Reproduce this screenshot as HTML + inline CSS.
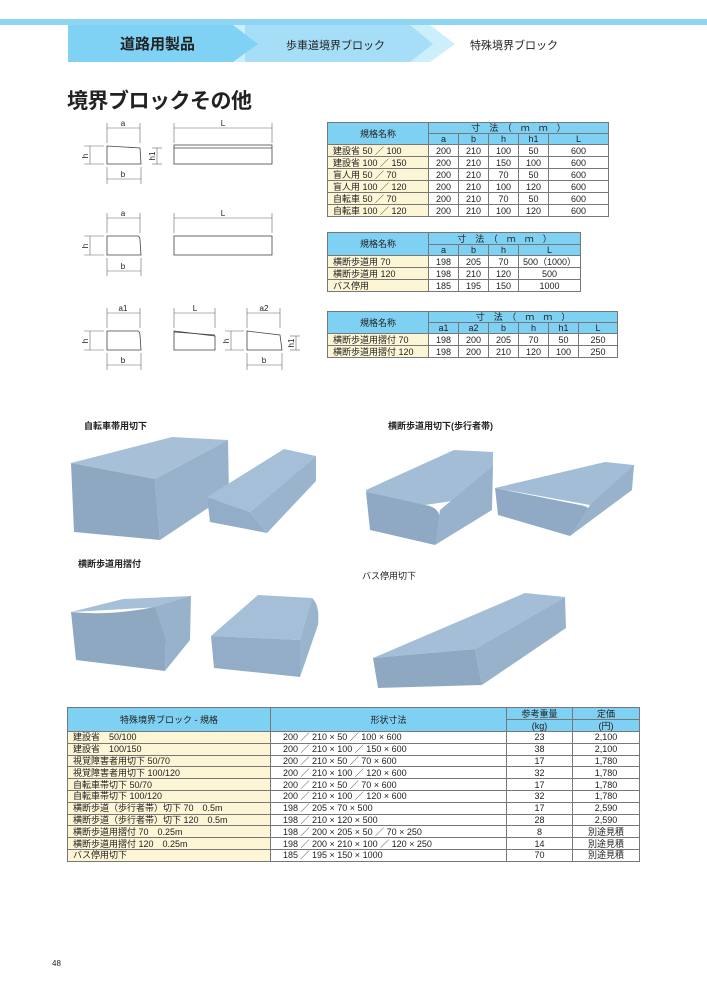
<!DOCTYPE html>
<html><head><meta charset="utf-8">
<style>
*{margin:0;padding:0;box-sizing:border-box}
body{width:707px;height:1000px;background:#fff;position:relative;overflow:hidden;font-family:"Liberation Sans","Noto Sans CJK JP",sans-serif;color:#222}
.abs{position:absolute}
table{border-collapse:collapse;position:absolute;table-layout:fixed;font-size:9px}
td{border:1px solid #777;text-align:center;padding:0;line-height:10px;white-space:nowrap;overflow:hidden}
td.h{background:#7fd1f4}
td.n{background:#fdf6d6;text-align:left;padding-left:5px}
</style></head><body>
<div class="abs" style="left:0;top:19px;width:707px;height:6px;background:#8dd5f3"></div>
<svg class="abs" style="left:0;top:0" width="707" height="70">
<polygon points="186,25 430,25 455,44 430,62 186,62" fill="#cdeefb"/>
<polygon points="245,25 410,25 433,44 410,62 245,62" fill="#a6def7"/>
<polygon points="68,25 233,25 258,44 233,62 68,62" fill="#80d2f4"/>
</svg>
<div class="abs" style="left:120px;top:33px;font-size:15px;font-weight:bold;color:#222">道路用製品</div>
<div class="abs" style="left:286px;top:37px;font-size:11px">歩車道境界ブロック</div>
<div class="abs" style="left:470px;top:37px;font-size:11px">特殊境界ブロック</div>
<div class="abs" style="left:67px;top:85px;font-size:21px;font-weight:bold;letter-spacing:-0.5px">境界ブロックその他</div>

<svg class="abs" style="left:0;top:0" width="320" height="400" fill="none" stroke="#444" stroke-width="0.8" font-family="Liberation Sans" font-size="8">
<g stroke="#666" stroke-width="0.6">
<line x1="107" y1="128" x2="140" y2="128"/><line x1="107" y1="123" x2="107" y2="143"/><line x1="140" y1="123" x2="140" y2="143"/>
<line x1="107" y1="179" x2="141" y2="179"/><line x1="107" y1="167" x2="107" y2="184"/><line x1="141" y1="167" x2="141" y2="184"/>
<line x1="90" y1="146" x2="90" y2="164"/><line x1="84" y1="146" x2="104" y2="146"/><line x1="84" y1="164" x2="104" y2="164"/>
<line x1="157" y1="148" x2="157" y2="164"/><line x1="152" y1="148" x2="162" y2="148"/><line x1="152" y1="164" x2="162" y2="164"/>
<line x1="174" y1="128" x2="272" y2="128"/><line x1="174" y1="123" x2="174" y2="143"/><line x1="272" y1="123" x2="272" y2="143"/>
<line x1="107" y1="218" x2="140" y2="218"/><line x1="107" y1="213" x2="107" y2="233"/><line x1="140" y1="213" x2="140" y2="233"/>
<line x1="107" y1="271" x2="141" y2="271"/><line x1="107" y1="258" x2="107" y2="276"/><line x1="141" y1="258" x2="141" y2="276"/>
<line x1="90" y1="236" x2="90" y2="255"/><line x1="84" y1="236" x2="104" y2="236"/><line x1="84" y1="255" x2="104" y2="255"/>
<line x1="174" y1="218" x2="272" y2="218"/><line x1="174" y1="213" x2="174" y2="233"/><line x1="272" y1="213" x2="272" y2="233"/>
<line x1="107" y1="313" x2="140" y2="313"/><line x1="107" y1="308" x2="107" y2="328"/><line x1="140" y1="308" x2="140" y2="328"/>
<line x1="107" y1="365" x2="141" y2="365"/><line x1="107" y1="353" x2="107" y2="370"/><line x1="141" y1="353" x2="141" y2="370"/>
<line x1="90" y1="331" x2="90" y2="350"/><line x1="84" y1="331" x2="104" y2="331"/><line x1="84" y1="350" x2="104" y2="350"/>
<line x1="174" y1="313" x2="215" y2="313"/><line x1="174" y1="308" x2="174" y2="328"/><line x1="215" y1="308" x2="215" y2="328"/>
<line x1="247" y1="313" x2="280" y2="313"/><line x1="247" y1="308" x2="247" y2="328"/><line x1="280" y1="308" x2="280" y2="328"/>
<line x1="247" y1="365" x2="282" y2="365"/><line x1="247" y1="353" x2="247" y2="370"/><line x1="282" y1="353" x2="282" y2="370"/>
<line x1="231" y1="331" x2="231" y2="350"/><line x1="225" y1="331" x2="244" y2="331"/><line x1="225" y1="350" x2="244" y2="350"/>
<line x1="296" y1="336" x2="296" y2="350"/><line x1="290" y1="336" x2="300" y2="336"/><line x1="290" y1="350" x2="300" y2="350"/>
</g>
<polygon points="107,146 140,148 141,164 107,164"/>
<rect x="174" y="145" width="98" height="19"/><line x1="174" y1="148" x2="272" y2="148"/>
<path d="M107,236 H138 Q140,237 140,240 L141,255 H107 Z"/>
<rect x="174" y="236" width="98" height="19"/>
<path d="M107,331 H138 Q140,332 140,335 L141,350 H107 Z"/>
<polygon points="174,331 215,336 215,350 174,350"/><line x1="174" y1="332" x2="215" y2="335"/>
<polygon points="247,331 280,335 282,350 247,350"/>
<g fill="#222" stroke="none" text-anchor="middle">
<text x="123" y="126">a</text><text x="123" y="177">b</text><text x="223" y="126">L</text>
<text x="123" y="216">a</text><text x="123" y="269">b</text><text x="223" y="216">L</text>
<text x="123" y="311">a1</text><text x="123" y="363">b</text><text x="195" y="311">L</text><text x="264" y="311">a2</text><text x="264" y="363">b</text>
<text transform="translate(88,156) rotate(-90)">h</text><text transform="translate(155,156) rotate(-90)">h1</text>
<text transform="translate(88,246) rotate(-90)">h</text><text transform="translate(88,341) rotate(-90)">h</text>
<text transform="translate(229,341) rotate(-90)">h</text><text transform="translate(294,343) rotate(-90)">h1</text>
</g>
</svg>

<table style="left:327px;top:122px;width:281px">
<colgroup><col style="width:101px"><col style="width:30px"><col style="width:30px"><col style="width:30px"><col style="width:30px"><col style="width:60px"></colgroup>
<tr style="height:11px"><td class="h" rowspan="2">規格名称</td><td class="h" colspan="5">寸　法　（　ｍ　ｍ　）</td></tr>
<tr style="height:11px"><td class="h">a</td><td class="h">b</td><td class="h">h</td><td class="h">h1</td><td class="h">L</td></tr>
<tr style="height:12px"><td class="n">建設省 50 ／ 100</td><td>200</td><td>210</td><td>100</td><td>50</td><td>600</td></tr>
<tr style="height:12px"><td class="n">建設省 100 ／ 150</td><td>200</td><td>210</td><td>150</td><td>100</td><td>600</td></tr>
<tr style="height:12px"><td class="n">盲人用 50 ／ 70</td><td>200</td><td>210</td><td>70</td><td>50</td><td>600</td></tr>
<tr style="height:12px"><td class="n">盲人用 100 ／ 120</td><td>200</td><td>210</td><td>100</td><td>120</td><td>600</td></tr>
<tr style="height:12px"><td class="n">自転車 50 ／ 70</td><td>200</td><td>210</td><td>70</td><td>50</td><td>600</td></tr>
<tr style="height:12px"><td class="n">自転車 100 ／ 120</td><td>200</td><td>210</td><td>100</td><td>120</td><td>600</td></tr>
</table>

<table style="left:327px;top:232px;width:253px">
<colgroup><col style="width:101px"><col style="width:30px"><col style="width:30px"><col style="width:30px"><col style="width:62px"></colgroup>
<tr style="height:12px"><td class="h" rowspan="2">規格名称</td><td class="h" colspan="4">寸　法　（　ｍ　ｍ　）</td></tr>
<tr style="height:11px"><td class="h">a</td><td class="h">b</td><td class="h">h</td><td class="h">L</td></tr>
<tr style="height:12px"><td class="n">横断歩道用 70</td><td>198</td><td>205</td><td>70</td><td>500（1000）</td></tr>
<tr style="height:12px"><td class="n">横断歩道用 120</td><td>198</td><td>210</td><td>120</td><td>500</td></tr>
<tr style="height:12px"><td class="n">バス停用</td><td>185</td><td>195</td><td>150</td><td>1000</td></tr>
</table>

<table style="left:327px;top:311px;width:290px">
<colgroup><col style="width:101px"><col style="width:30px"><col style="width:30px"><col style="width:30px"><col style="width:30px"><col style="width:30px"><col style="width:39px"></colgroup>
<tr style="height:11px"><td class="h" rowspan="2">規格名称</td><td class="h" colspan="6">寸　法　（　ｍ　ｍ　）</td></tr>
<tr style="height:11px"><td class="h">a1</td><td class="h">a2</td><td class="h">b</td><td class="h">h</td><td class="h">h1</td><td class="h">L</td></tr>
<tr style="height:12px"><td class="n">横断歩道用摺付 70</td><td>198</td><td>200</td><td>205</td><td>70</td><td>50</td><td>250</td></tr>
<tr style="height:12px"><td class="n">横断歩道用摺付 120</td><td>198</td><td>200</td><td>210</td><td>120</td><td>100</td><td>250</td></tr>
</table>

<div class="abs" style="left:84px;top:419px;font-size:9px;font-weight:bold">自転車帯用切下</div>
<div class="abs" style="left:388px;top:419px;font-size:9px;font-weight:bold">横断歩道用切下(歩行者帯)</div>
<div class="abs" style="left:78px;top:557px;font-size:9px;font-weight:bold">横断歩道用摺付</div>
<div class="abs" style="left:362px;top:569px;font-size:9px">バス停用切下</div>

<svg class="abs" style="left:0;top:0" width="707" height="700">
<g stroke="none">
<polygon points="71,463 172,437 228,440 155,479" fill="#a7c0d8"/>
<polygon points="71,463 155,479 160,540 74,532" fill="#8ea8c2"/>
<polygon points="155,479 228,440 229,494 160,540" fill="#98b2cc"/>
<polygon points="207,497 284,449 316,456 250,512" fill="#a5bfd8"/>
<polygon points="207,497 250,512 267,533 210,522" fill="#93adc8"/>
<polygon points="250,512 316,456 316,481 267,533" fill="#9ab4ce"/>
<polygon points="366,490 454,450 493,452 493,466 473,498 425,505 367,494" fill="#a3bdd6"/>
<path d="M366,492 L425,505 Q440,507 440,520 L435,545 L370,530 Z" fill="#8fa9c4"/>
<polygon points="440,510 493,466 492,510 435,545" fill="#98b2cc"/>
<polygon points="495,488 605,462 634,465 632,478 590,505 540,496" fill="#a3bdd6"/>
<path d="M495,488 L580,505 Q594,507 590,518 L570,536 L498,515 Z" fill="#90aac5"/>
<polygon points="590,505 634,465 632,490 570,536" fill="#98b2cc"/>
<polygon points="71,612 123,599 191,596 162,607" fill="#a7c0d8"/>
<path d="M71,612 Q110,616 155,607 Q168,612 166,640 L165,671 L76,660 Z" fill="#8ea8c2"/>
<polygon points="155,607 191,596 190,640 165,671 166,640" fill="#98b2cc"/>
<polygon points="211,636 258,595 312,598 300,640" fill="#a5bfd8"/>
<path d="M211,636 L300,640 L300,677 L214,668 Z" fill="#93adc8"/>
<path d="M300,640 L312,598 Q320,605 318,625 L300,677 Z" fill="#9ab4ce"/>
<polygon points="373,658 525,593 565,597 475,649" fill="#a5bed7"/>
<polygon points="373,658 475,649 482,685 378,688" fill="#8ea8c2"/>
<polygon points="475,649 565,597 566,628 482,685" fill="#98b2cc"/>
</g>
</svg>

<table style="left:67px;top:707px;width:572px">
<colgroup><col style="width:203px"><col style="width:236px"><col style="width:66px"><col style="width:67px"></colgroup>
<tr style="height:12px"><td class="h" rowspan="2">特殊境界ブロック - 規格</td><td class="h" rowspan="2">形状寸法</td><td class="h">参考重量</td><td class="h">定価</td></tr>
<tr style="height:12px"><td class="h">(kg)</td><td class="h">(円)</td></tr>
<tr style="height:11.8px"><td class="n">建設省　50/100</td><td style="text-align:left;padding-left:12px">200 ／ 210 × 50 ／ 100 × 600</td><td>23</td><td>2,100</td></tr>
<tr style="height:11.8px"><td class="n">建設省　100/150</td><td style="text-align:left;padding-left:12px">200 ／ 210 × 100 ／ 150 × 600</td><td>38</td><td>2,100</td></tr>
<tr style="height:11.8px"><td class="n">視覚障害者用切下 50/70</td><td style="text-align:left;padding-left:12px">200 ／ 210 × 50 ／ 70 × 600</td><td>17</td><td>1,780</td></tr>
<tr style="height:11.8px"><td class="n">視覚障害者用切下 100/120</td><td style="text-align:left;padding-left:12px">200 ／ 210 × 100 ／ 120 × 600</td><td>32</td><td>1,780</td></tr>
<tr style="height:11.8px"><td class="n">自転車帯切下 50/70</td><td style="text-align:left;padding-left:12px">200 ／ 210 × 50 ／ 70 × 600</td><td>17</td><td>1,780</td></tr>
<tr style="height:11.8px"><td class="n">自転車帯切下 100/120</td><td style="text-align:left;padding-left:12px">200 ／ 210 × 100 ／ 120 × 600</td><td>32</td><td>1,780</td></tr>
<tr style="height:11.8px"><td class="n">横断歩道（歩行者帯）切下 70　0.5m</td><td style="text-align:left;padding-left:12px">198 ／ 205 × 70 × 500</td><td>17</td><td>2,590</td></tr>
<tr style="height:11.8px"><td class="n">横断歩道（歩行者帯）切下 120　0.5m</td><td style="text-align:left;padding-left:12px">198 ／ 210 × 120 × 500</td><td>28</td><td>2,590</td></tr>
<tr style="height:11.8px"><td class="n">横断歩道用摺付 70　0.25m</td><td style="text-align:left;padding-left:12px">198 ／ 200 × 205 × 50 ／ 70 × 250</td><td>8</td><td>別途見積</td></tr>
<tr style="height:11.8px"><td class="n">横断歩道用摺付 120　0.25m</td><td style="text-align:left;padding-left:12px">198 ／ 200 × 210 × 100 ／ 120 × 250</td><td>14</td><td>別途見積</td></tr>
<tr style="height:11.8px"><td class="n">バス停用切下</td><td style="text-align:left;padding-left:12px">185 ／ 195 × 150 × 1000</td><td>70</td><td>別途見積</td></tr>
</table>

<div class="abs" style="left:52px;top:959px;font-size:8px">48</div>
</body></html>
